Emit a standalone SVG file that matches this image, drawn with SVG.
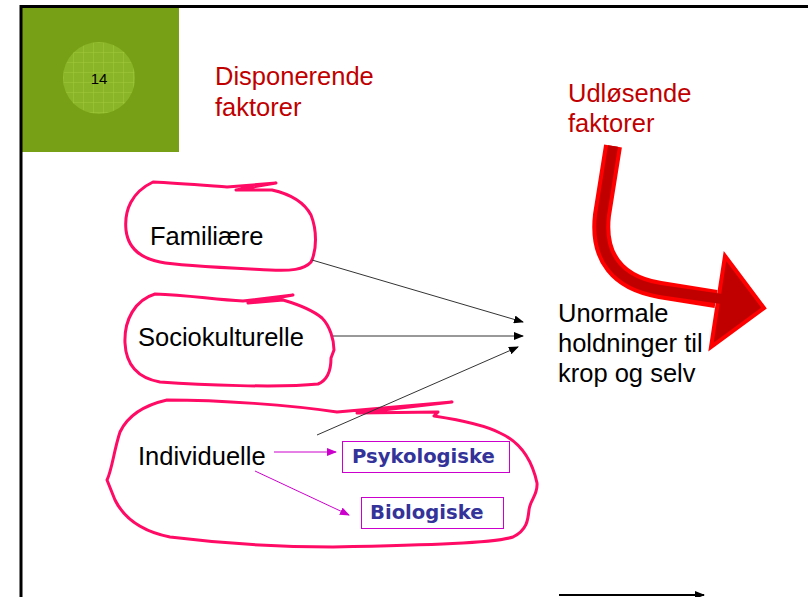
<svg xmlns="http://www.w3.org/2000/svg" width="808" height="597" viewBox="0 0 808 597">
<style>
.t{font-family:"Liberation Sans",Arial,sans-serif;font-size:25.5px;fill:#000}
.red{fill:#c00000}
.pen{fill:none;stroke:#ff0a64;stroke-width:3;stroke-linejoin:round;stroke-linecap:round}
.box{fill:#fff;stroke:#cc00cc;stroke-width:1}
.bl{font-family:"DejaVu Sans",Verdana,sans-serif;font-weight:bold;font-size:19.6px;fill:#333399}
.con{stroke:#333;stroke-width:1;fill:none}
.mag{stroke:#cc00cc;stroke-width:1;fill:none}
</style>
<defs>
<marker id="ab" markerWidth="10" markerHeight="8" refX="9" refY="4" orient="auto" markerUnits="userSpaceOnUse"><path d="M0,0 L10,4 L0,8 Z" fill="#000"/></marker>
<marker id="am" markerWidth="10" markerHeight="8" refX="9" refY="4" orient="auto" markerUnits="userSpaceOnUse"><path d="M0,0 L10,4 L0,8 Z" fill="#cc00cc"/></marker>
<pattern id="grid" width="10" height="10" patternUnits="userSpaceOnUse" x="63" y="42"><rect width="10" height="10" fill="#8bb528"/><path d="M0,0 H10 M0,0 V10" stroke="#a2cb3c" stroke-width="1"/></pattern>
</defs>
<rect width="808" height="597" fill="#fff"/>
<g id="slide-header">
<rect x="22" y="8" width="157" height="144" fill="#78a016"/>
<circle cx="99" cy="78" r="36" fill="url(#grid)"/>
<text x="99" y="84" font-family="Liberation Sans,Arial,sans-serif" font-size="15" text-anchor="middle" fill="#000">14</text>
</g>
<path d="M21,597 V6.5 H808" fill="none" stroke="#000" stroke-width="3"/>
<g id="title-disponerende">
<text class="t red" x="215" y="85">Disponerende</text>
<text class="t red" x="215" y="116">faktorer</text>
</g>
<g id="title-udlosende">
<text class="t red" x="568" y="102">Udløsende</text>
<text class="t red" x="568" y="132">faktorer</text>
</g>
<g id="red-arrow">
<path d="M613,146 L602,215 C597,258 618,283 660,290 L716,299" fill="none" stroke="#ff0000" stroke-width="18"/>
<polygon points="725,256 764,308 711,347" fill="#c00000" stroke="#ff0000" stroke-width="4" stroke-linejoin="miter"/>
<path d="M613,146 L602,215 C597,258 618,283 660,290 L722,299" fill="none" stroke="#c00000" stroke-width="10"/>
</g>
<g id="familiaere">
<path class="pen" d="M153,182 C175,183 200,185 227,187 L276,183 L236,190 L272,190 C290,194 304,202 311,215 C317,230 317,250 311,262 C304,270 290,271 270,270 C230,268 180,266 160,262 C140,258 128,248 126,230 C124,210 132,192 153,182 Z"/>
<text class="t" x="150" y="245">Familiære</text>
</g>
<g id="sociokulturelle">
<path class="pen" d="M155,294 C190,295 215,300 243,301 L293,295 L248,303 L283,300 C300,305 315,312 322,318 C330,326 334,340 334,350 L331,358 C331,370 328,380 318,384 C280,388 200,385 160,382 C138,378 126,365 125,343 C124,320 135,300 155,294 Z"/>
<text class="t" x="138" y="346">Sociokulturelle</text>
</g>
<g id="individuelle">
<path class="pen" d="M167,400 C220,400 290,405 337,412 L452,402 L357,413 L438,412 L434,416 C460,420 485,425 500,433 C520,442 532,460 537,483 C538,495 530,500 529,510 C528,520 527,530 513,537 C495,543 430,545 333,547 C260,547 210,542 170,537 C145,532 125,520 115,500 L107,480 C112,470 114,450 120,432 C128,415 145,405 167,400 Z"/>
<text class="t" x="138" y="465">Individuelle</text>
</g>
<g id="psykologiske">
<rect class="box" x="342.5" y="441.5" width="167" height="31"/>
<text class="bl" x="352" y="463">Psykologiske</text>
</g>
<g id="biologiske">
<rect class="box" x="361.5" y="497.5" width="142" height="31"/>
<text class="bl" x="370" y="519">Biologiske</text>
</g>
<g id="unormale">
<text class="t" x="558" y="322">Unormale</text>
<text class="t" x="558" y="352">holdninger til</text>
<text class="t" x="558" y="382">krop og selv</text>
</g>
<g id="connectors">
<line class="con" x1="312" y1="260" x2="523" y2="322" marker-end="url(#ab)"/>
<line class="con" x1="333" y1="336" x2="523" y2="336" marker-end="url(#ab)"/>
<line class="con" x1="317" y1="435" x2="518" y2="347" marker-end="url(#ab)"/>
<line class="mag" x1="274" y1="452" x2="336" y2="452" marker-end="url(#am)"/>
<line class="mag" x1="255" y1="471" x2="349" y2="515" marker-end="url(#am)"/>
<line x1="559" y1="595" x2="704" y2="595" stroke="#000" stroke-width="2" marker-end="url(#ab)"/>
</g>
</svg>
